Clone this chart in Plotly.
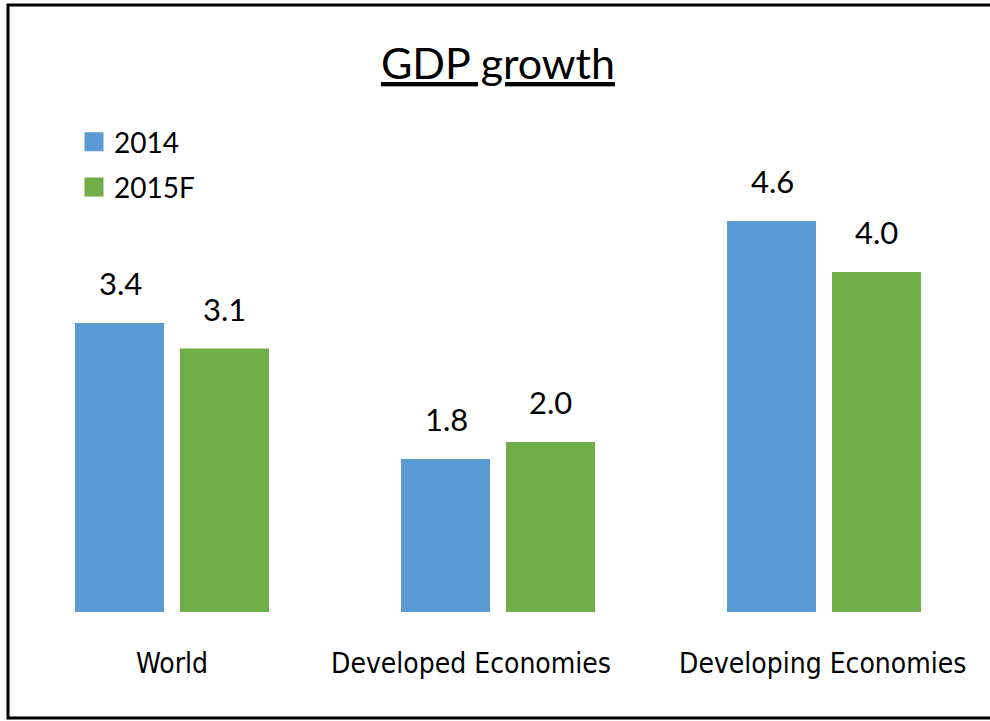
import plotly.graph_objects as go

# Data
categories = ["World", "Developed Economies", "Developing Economies"]
series_names = ["2014", "2015F"]
growth_2014 = [3.4, 1.8, 4.6]
growth_2015f = [3.1, 2.0, 4.0]
series_colors = ["#5B9BD5", "#70AD47"]

series_values = [growth_2014, growth_2015f]

W, H = 990, 721
ML, MR, MT, MB = 9, 3, 112, 109
plot_w = W - ML - MR
plot_h = H - MT - MB
y_max = plot_h / 85.0  # ~85 px per percentage point

fig = go.Figure()

for name, vals, color in zip(series_names, series_values, series_colors):
    fig.add_trace(go.Bar(
        x=categories, y=vals, name=name,
        marker=dict(color=color, line=dict(width=0)),
        showlegend=False, hoverinfo="x+y",
    ))

# Legend proxies with larger square swatches
for i, (name, color) in enumerate(zip(series_names, series_colors)):
    fig.add_trace(go.Scatter(
        x=[None], y=[None], mode="markers", name=name,
        marker=dict(symbol="square", size=16, color=color,
                    line=dict(color=color, width=3)),
        legendgroup=f"g{i}", showlegend=True,
    ))

# Value labels above bars
offsets = [-52, 52]
for vals, dx in zip(series_values, offsets):
    for cat, v in zip(categories, vals):
        fig.add_annotation(
            x=cat, y=v, text=f"{v:.1f}", showarrow=False,
            xshift=dx, yshift=19, yanchor="bottom",
            font=dict(family="Lato", size=31, color="#000000"),
        )

# Category labels below the bars
label_shift = [0, -27, -2]
for cat, dx in zip(categories, label_shift):
    fig.add_annotation(
        x=cat, y=0, text=cat, showarrow=False,
        xshift=dx, yshift=-51, yanchor="middle",
        font=dict(family="DejaVu Sans Condensed, DejaVu Sans", size=28, color="#000000"),
    )

# Outer frame
fig.add_shape(
    type="rect", xref="paper", yref="paper",
    x0=(8 - ML) / plot_w, x1=(W + 30 - ML) / plot_w,
    y0=-(718 - (H - MB)) / plot_h, y1=1 + (MT - 5) / plot_h,
    line=dict(color="#000000", width=3), fillcolor="rgba(0,0,0,0)",
)

fig.update_layout(
    width=W, height=H,
    margin=dict(l=ML, r=MR, t=MT, b=MB),
    paper_bgcolor="#FFFFFF", plot_bgcolor="#FFFFFF",
    barmode="group", bargap=0.356, bargroupgap=0.152,
    title=dict(
        text="<u>GDP growth</u>", x=0.503, xanchor="center",
        yref="container", y=1 - 64 / H, yanchor="middle",
        font=dict(family="Lato", size=43, color="#000000"),
    ),
    legend=dict(
        x=(74 - ML) / plot_w, y=1 + (MT - 117) / plot_h,
        xanchor="left", yanchor="top",
        font=dict(family="Lato", size=28, color="#000000"),
        tracegroupgap=6, bgcolor="rgba(0,0,0,0)",
    ),
    xaxis=dict(
        showgrid=False, zeroline=False, showline=False,
        showticklabels=False, ticks="",
    ),
    yaxis=dict(
        range=[0, y_max], showgrid=False, zeroline=False,
        showline=False, showticklabels=False, ticks="",
    ),
    showlegend=True,
)

fig.write_html("out.html")
